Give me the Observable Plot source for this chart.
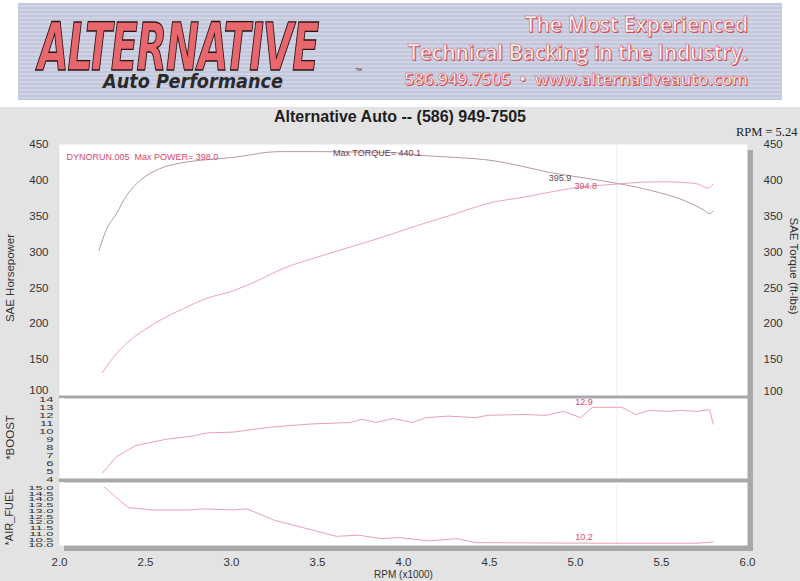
<!DOCTYPE html>
<html><head><meta charset="utf-8">
<script src="https://cdn.jsdelivr.net/npm/d3@7"></script>
<script src="https://cdn.jsdelivr.net/npm/@observablehq/plot@0.6"></script>
<style>
html,body{margin:0;padding:0;background:#fff;}
#root{position:relative;width:800px;height:581px;overflow:hidden;background:#fff;font-family:"Liberation Sans",Arial,sans-serif;}
#gray{position:absolute;left:0;top:107px;width:800px;height:474px;background:#e3e3e3;}
#banner{position:absolute;left:18px;top:3px;width:764px;height:97px;
  background:repeating-linear-gradient(to bottom,#c2c7dc 0px,#c2c7dc 2px,#cfd3e4 2px,#cfd3e4 4px);}
.abs{position:absolute;white-space:nowrap;}
#logo{left:20px;top:21px;font:italic 900 66px "DejaVu Sans",sans-serif;line-height:0.72;color:#e8676d;
  -webkit-text-stroke:1.4px #2a1414;transform:scaleX(0.6);transform-origin:0 0;letter-spacing:-2px;}
#tm{left:337px;top:64px;font:7px "Liberation Sans",Arial,sans-serif;color:#333;}
#ap{left:85px;top:69px;font:italic 700 19px "DejaVu Sans",sans-serif;line-height:1;color:#2a2a2a;transform:scaleX(0.93);transform-origin:0 0;}
.rt{right:52px;font-family:"Open Sans",sans-serif;font-weight:600;color:#fff8f8;
  -webkit-text-stroke:0.5px #d0505a;text-shadow:1px 1px 0 #c8505a;}
#r1{top:10px;font-size:21px;}
#r2{top:38px;font-size:21px;}
#r3{top:67px;font-size:17px;}
#title{left:0;top:108px;width:800px;text-align:center;font:bold 16px "Liberation Sans",Arial,sans-serif;color:#1e1e1e;}
#shadow{position:absolute;left:64px;top:150px;width:689px;height:401px;background:#a8a8a8;}
#sep1{position:absolute;left:59px;top:395px;width:694px;height:3px;background:#a8a8a8;}
#sep2{position:absolute;left:59px;top:478px;width:694px;height:4px;background:#a8a8a8;}
.plot{position:absolute;left:0;}
</style></head>
<body>
<div id="root">
  <div id="gray"></div>
  <div id="banner">
    <div id="logo" class="abs">ALTERNATIVE</div>
    <div id="tm" class="abs">™</div>
    <div id="ap" class="abs">Auto Performance</div>
  </div>
  <div id="r1" class="abs rt">The Most Experienced</div>
  <div id="r2" class="abs rt">Technical Backing in the Industry.</div>
  <div id="r3" class="abs rt">586.949.7505 &nbsp;•&nbsp; www.alternativeauto.com</div>
  <div id="title" class="abs">Alternative Auto -- (586) 949-7505</div>
  <div id="shadow"></div>
  <div id="sep1"></div>
  <div id="sep2"></div>
  <div id="p1" class="plot" style="top:130px"></div>
  <div id="p2" class="plot" style="top:393px"></div>
  <div id="p3" class="plot" style="top:477px"></div>
</div>
<script>
// ---- data ----
const rpmTicks = [2.0, 2.5, 3.0, 3.5, 4.0, 4.5, 5.0, 5.5, 6.0];
const hpTicks = [150, 200, 250, 300, 350, 400, 450];
const hpBottomTick = [100];
const boostTicks = [4, 5, 6, 7, 8, 9, 10, 11, 12, 13, 14];
const afTicks = [10.0, 10.5, 11.0, 11.5, 12.0, 12.5, 13.0, 13.5, 14.0, 14.5, 15.0];
const cursorRpm = 5.24;

const torqueRpm  = [2.23, 2.27, 2.33, 2.39, 2.47, 2.58, 2.70, 2.82, 3.01, 3.12, 3.20, 3.30, 3.50, 3.70, 3.90, 4.00, 4.12, 4.30, 4.52, 4.70, 4.85, 5.05, 5.24, 5.44, 5.63, 5.75, 5.78, 5.80];
const torqueVals = [302, 330, 353, 379, 400, 416, 424, 428, 432, 436, 439, 440.1, 440.1, 439.5, 439, 437.5, 434.5, 432, 427.5, 419, 411, 403.5, 395.9, 385.8, 372, 358, 353.5, 357];

const powerRpm  = [2.25, 2.33, 2.41, 2.49, 2.60, 2.72, 2.85, 3.01, 3.15, 3.30, 3.50, 3.69, 3.88, 4.08, 4.27, 4.52, 4.70, 4.85, 5.01, 5.24, 5.38, 5.53, 5.63, 5.71, 5.77, 5.80];
const powerVals = [132, 158, 177, 191, 207, 221, 235, 246, 260, 277, 293, 307, 321, 337, 351, 369.5, 376.5, 383.5, 390, 394.8, 397.4, 398.0, 397, 395, 389, 395];

const boostRpm  = [2.25, 2.33, 2.44, 2.62, 2.77, 2.86, 3.01, 3.22, 3.45, 3.69, 3.76, 3.84, 3.94, 4.05, 4.13, 4.26, 4.42, 4.49, 4.70, 4.83, 4.93, 5.03, 5.10, 5.27, 5.35, 5.43, 5.53, 5.61, 5.71, 5.78, 5.80];
const boostVals = [4.7, 6.7, 8.1, 8.9, 9.3, 9.7, 9.8, 10.4, 10.8, 11.0, 11.4, 11.0, 11.5, 11.0, 11.6, 11.8, 11.6, 11.9, 12.0, 11.9, 12.4, 11.6, 12.9, 12.9, 12.0, 12.5, 12.4, 12.5, 12.4, 12.6, 10.8];

const afRpm  = [2.26, 2.40, 2.54, 2.75, 2.83, 3.01, 3.09, 3.25, 3.43, 3.61, 3.74, 3.87, 3.97, 4.15, 4.31, 4.42, 5.09, 5.71, 5.80];
const afVals = [15.1, 13.3, 13.1, 13.1, 13.2, 13.1, 13.2, 12.2, 11.5, 10.8, 10.9, 10.6, 10.7, 10.4, 10.6, 10.25, 10.2, 10.2, 10.3];

const runLabel = ["DYNORUN.005  Max POWER= 398.0"];
const torqueLabel = [{rpm: 3.59, v: 437.4, label: "Max TORQUE= 440.1"}];
const hpReadouts = [{rpm: 4.91, v: 402.6, label: "395.9", color: "#5e4652"}, {rpm: 5.06, v: 391.4, label: "394.8", color: "#d9486e"}];
const boostReadout = [{rpm: 5.05, v: 13.6, label: "12.9"}];
const afReadout = [{rpm: 5.05, v: 10.7, label: "10.2"}];

// ---- tables ----
const zip = (xs, ys) => xs.map((x, i) => ({rpm: x, v: ys[i]}));
const torque = zip(torqueRpm, torqueVals);
const power = zip(powerRpm, powerVals);
const boost = zip(boostRpm, boostVals);
const airFuel = zip(afRpm, afVals);

const font = "'Liberation Sans', Arial, sans-serif";
const style = {background: "transparent", fontFamily: font, fontSize: "11.5px", color: "#333", overflow: "visible"};
const base = {width: 800, marginLeft: 59, marginRight: 53, style};
const xScale = {domain: [2, 6], axis: null};
const pink = "#d9486e";

// squeeze stacked tick labels vertically, as the dyno printout does
function squeeze(svg, k) {
  svg.querySelectorAll('g[aria-label="y-axis tick label"] text').forEach(t => {
    const tr = t.getAttribute("transform");
    if (tr) t.setAttribute("transform", tr + ` scale(1,${k})`);
    else {
      const x = +t.getAttribute("x") || 0, y = +t.getAttribute("y") || 0;
      t.removeAttribute("x"); t.removeAttribute("y");
      t.setAttribute("transform", `translate(${x},${y}) scale(1,${k})`);
    }
  });
}

const p1 = Plot.plot({
  ...base, height: 275, marginTop: 14, marginBottom: 10,
  x: xScale, y: {domain: [100, 450], axis: null},
  marks: [
    Plot.frame({fill: "white", stroke: null}),
    Plot.ruleX([cursorRpm], {stroke: "#ececec"}),
    Plot.line(torque, {x: "rpm", y: "v", stroke: "#ad8c99", strokeWidth: 0.9, curve: "monotone-x"}),
    Plot.line(power, {x: "rpm", y: "v", stroke: "#ec9aab", strokeWidth: 0.9, curve: "monotone-x"}),
    Plot.axisY({anchor: "left", ticks: hpTicks, tickSize: 0, tickPadding: 11, label: null}),
    Plot.axisY({anchor: "right", ticks: hpTicks, tickSize: 0, tickPadding: 16, label: null}),
    Plot.axisY({anchor: "left", ticks: hpBottomTick, tickSize: 0, tickPadding: 11, label: null, dy: -5}),
    Plot.axisY({anchor: "right", ticks: hpBottomTick, tickSize: 0, tickPadding: 16, label: null, dy: -4}),
    Plot.text(["SAE Horsepower"], {text: d => d, frameAnchor: "left", textAnchor: "middle", dx: -49, dy: 8, rotate: -90, fontSize: 11.5, fill: "#333"}),
    Plot.text(["SAE Torque (ft-lbs)"], {text: d => d, frameAnchor: "right", textAnchor: "middle", dx: 46, dy: -4, rotate: 90, fontSize: 11.5, fill: "#333"}),
    Plot.text([cursorRpm], {text: d => "RPM = " + d.toFixed(2), frameAnchor: "top-right", dx: 50, dy: -17, textAnchor: "end", fontFamily: "'Liberation Serif', 'Times New Roman', serif", fontSize: 12.5, fill: "#222"}),
    Plot.text(runLabel, {text: d => d, frameAnchor: "top-left", dx: 7, dy: 9, textAnchor: "start", fontSize: 9, fill: pink}),
    Plot.text(torqueLabel, {x: "rpm", y: "v", text: "label", textAnchor: "start", fontSize: 9, fill: "#6e3b4b"}),
    Plot.text(hpReadouts, {x: "rpm", y: "v", text: "label", fill: "color", fontSize: 9})
  ]
});

const p2 = Plot.plot({
  ...base, height: 90, marginTop: 5, marginBottom: 5,
  x: xScale, y: {domain: [4, 14], axis: null},
  marks: [
    Plot.frame({fill: "white", stroke: null}),
    Plot.ruleX([cursorRpm], {stroke: "#f0f0f0"}),
    Plot.line(boost, {x: "rpm", y: "v", stroke: "#e796a6", strokeWidth: 0.9}),
    Plot.axisY({anchor: "left", ticks: boostTicks, tickSize: 0, tickPadding: 6, label: null, fontSize: 13, dy: 1}),
    Plot.text(["*BOOST"], {text: d => d, frameAnchor: "left", textAnchor: "middle", dx: -49, dy: -1, rotate: -90, fontSize: 11.5, fill: "#333"}),
    Plot.text(boostReadout, {x: "rpm", y: "v", text: "label", fill: pink, fontSize: 9})
  ]
});
squeeze(p2, 0.55);

const p3 = Plot.plot({
  ...base, height: 104, marginTop: 5, marginBottom: 36,
  x: xScale, y: {domain: [10, 15.5], axis: null},
  marks: [
    Plot.frame({fill: "white", stroke: null}),
    Plot.ruleX([cursorRpm], {stroke: "#f0f0f0"}),
    Plot.line(airFuel, {x: "rpm", y: "v", stroke: "#e796a6", strokeWidth: 0.9}),
    Plot.axisY({anchor: "left", ticks: afTicks, tickFormat: d3.format(".1f"), tickSize: 0, tickPadding: 6, label: null, fontSize: 13}),
    Plot.axisX({anchor: "bottom", ticks: rpmTicks, tickFormat: d3.format(".1f"), tickSize: 0, tickPadding: 12, label: null}),
    Plot.text(["*AIR_FUEL"], {text: d => d, frameAnchor: "left", textAnchor: "middle", dx: -50, dy: 3, rotate: -90, fontSize: 11, fill: "#333"}),
    Plot.text(["RPM (x1000)"], {text: d => d, frameAnchor: "bottom", dy: 32.5, fontSize: 10, fill: "#333"}),
    Plot.text(afReadout, {x: "rpm", y: "v", text: "label", fill: pink, fontSize: 9})
  ]
});
squeeze(p3, 0.42);

document.getElementById("p1").appendChild(p1);
document.getElementById("p2").appendChild(p2);
document.getElementById("p3").appendChild(p3);
</script>
</body></html>
